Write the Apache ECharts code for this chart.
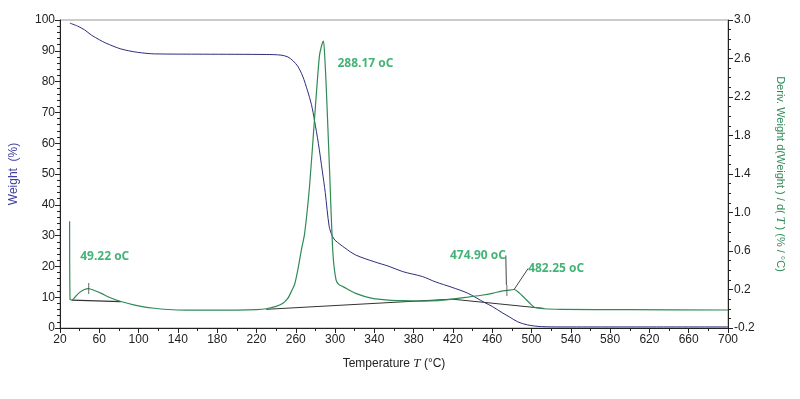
<!DOCTYPE html>
<html>
<head>
<meta charset="utf-8">
<script src="https://cdn.jsdelivr.net/npm/echarts@6/dist/echarts.min.js"></script>
<style>
  html, body { margin: 0; padding: 0; background: #fff; }
  #chart { width: 800px; height: 399px; }
</style>
</head>
<body>
<div id="chart"></div>
<script>
// 失重曲线 (TGA)
var weightTemp = [30, 38, 45, 52, 60, 66, 75, 82, 90, 99, 116, 166, 230, 245, 252, 257, 262, 267, 272, 276, 279, 283, 287, 290, 294, 297, 300, 310, 321, 340, 355, 369, 389, 402, 419, 435, 452, 460, 470, 478, 486, 496, 510, 530, 700];
var weight = [99.0, 98.0, 96.8, 95.1, 93.6, 92.6, 91.4, 90.6, 90.0, 89.5, 89.0, 88.9, 88.8, 88.6, 88.0, 86.8, 85.0, 81.8, 77.0, 72.5, 67.5, 60.0, 51.0, 44.0, 33.0, 30.0, 28.5, 26.0, 23.7, 21.5, 20.0, 18.3, 16.7, 15.0, 13.2, 11.3, 8.3, 7.0, 5.0, 3.5, 2.0, 1.0, 0.45, 0.35, 0.35];

// 微分曲线 (DTG)
var derivTemp = [29.8, 30.2, 32, 36, 40, 45, 49, 55, 62, 70, 82, 95, 105, 116, 130, 139, 160, 200, 220, 230, 240, 247, 252, 256, 259, 262, 265.7, 269, 274, 279, 284, 286.5, 288.2, 289.5, 291, 294.4, 297.8, 301, 304, 308, 321, 338, 355, 370, 389, 405, 419, 435, 449, 460, 469.5, 474.9, 482.3, 488, 493, 498, 503, 513, 530, 600, 700];
var deriv = [0.91, 0.10, 0.09, 0.13, 0.17, 0.20, 0.21, 0.19, 0.16, 0.12, 0.075, 0.04, 0.02, 0.005, -0.008, -0.013, -0.015, -0.015, -0.01, 0.0, 0.025, 0.057, 0.11, 0.19, 0.26, 0.40, 0.61, 0.78, 1.27, 1.96, 2.62, 2.74, 2.78, 2.62, 2.31, 1.44, 0.58, 0.30, 0.25, 0.23, 0.16, 0.108, 0.09, 0.084, 0.08, 0.085, 0.10, 0.12, 0.14, 0.16, 0.184, 0.19, 0.20, 0.16, 0.11, 0.06, 0.015, 0.0, -0.006, -0.01, -0.013];

// 基线
var base1Temp = [32, 82];
var base1 = [0.09, 0.073];
var base2Temp = [230, 419, 513];
var base2 = [-0.006, 0.10, 0.003];

// 峰值标注
var peakTemp = [49.22, 288.17, 474.90, 482.25];
var peakDeriv = [0.21, 2.78, 0.19, 0.20];

var xTicks = { min: 20, max: 700, interval: 40 };

function pairs(xs, ys) {
  return xs.map(function (x, i) { return [x, ys[i]]; });
}

var green = "#2f8a55";
var labelGreen = "#16a053";
var font = "Liberation Sans";

// 标注文字相对峰值点的偏移
var peakLayout = [
  { dx: 16, dy: -32, mark: true, line: false },
  { dx: 42, dy: 22, mark: false, line: false },
  { dx: -29, dy: -35, mark: true, line: true },
  { dx: 42, dy: -21, mark: false, line: true }
];

var peakData = peakTemp.map(function (t, i) {
  var l = peakLayout[i];
  return {
    value: [t, peakDeriv[i]],
    symbolSize: l.mark ? [1, 11] : 0,
    labelLine: { show: l.line }
  };
});

var myChart = echarts.init(document.getElementById("chart"));
var option = {
  animation: false,
  textStyle: { fontFamily: font },
  grid: {
    left: 55,
    right: 72,
    top: 20,
    bottom: 71,
    show: true,
    borderColor: "#999",
    borderWidth: 1
  },
  xAxis: {
    type: "value",
    min: xTicks.min,
    max: xTicks.max,
    interval: xTicks.interval,
    name: "Temperature {i|T} (°C)",
    nameLocation: "middle",
    nameGap: 29,
    nameTextStyle: {
      color: "#222",
      fontSize: 12,
      rich: { i: { fontStyle: "italic", fontFamily: "Liberation Serif", fontSize: 13, color: "#222" } }
    },
    axisLine: { onZero: false, lineStyle: { color: "#222" } },
    axisTick: { length: 5, lineStyle: { color: "#222" } },
    minorTick: { show: true, splitNumber: 2, length: 3, lineStyle: { color: "#222" } },
    axisLabel: { color: "#222", fontSize: 12, margin: 6 },
    splitLine: { show: false }
  },
  yAxis: [
    {
      type: "value",
      min: 0,
      max: 100,
      interval: 10,
      name: "Weight  (%)",
      nameLocation: "middle",
      nameGap: 40,
      nameTextStyle: { color: "#3f3f9f", fontSize: 12 },
      axisLine: { show: true, lineStyle: { color: "#222" } },
      axisTick: { length: 5, lineStyle: { color: "#222" } },
      minorTick: { show: true, splitNumber: 5, length: 3, lineStyle: { color: "#222" } },
      axisLabel: { color: "#222", fontSize: 12, margin: 5 },
      splitLine: { show: false }
    },
    {
      type: "value",
      min: -0.2,
      max: 3.0,
      interval: 0.4,
      position: "right",
      name: "Deriv. Weight d(Weight ) / d( {i|T} ) (% / °C)",
      nameLocation: "middle",
      nameRotate: -90,
      nameGap: 46,
      nameTextStyle: {
        color: green,
        fontSize: 11,
        rich: { i: { fontStyle: "italic", fontFamily: "Liberation Serif", fontSize: 12, color: green } }
      },
      axisLine: { show: true, lineStyle: { color: "#222" } },
      axisTick: { length: 5, lineStyle: { color: "#222" } },
      minorTick: { show: true, splitNumber: 4, length: 3, lineStyle: { color: "#222" } },
      axisLabel: {
        color: "#222",
        fontSize: 12,
        margin: 6,
        formatter: function (v) { return v.toFixed(1); }
      },
      splitLine: { show: false }
    }
  ],
  series: [
    {
      name: "Weight",
      type: "line",
      yAxisIndex: 0,
      data: pairs(weightTemp, weight),
      smooth: 0.3,
      showSymbol: false,
      lineStyle: { color: "#2d2d7e", width: 1 },
      z: 3
    },
    {
      name: "Baseline 1",
      type: "line",
      yAxisIndex: 1,
      data: pairs(base1Temp, base1),
      showSymbol: false,
      lineStyle: { color: "#333", width: 1.2 },
      z: 2
    },
    {
      name: "Baseline 2",
      type: "line",
      yAxisIndex: 1,
      data: pairs(base2Temp, base2),
      showSymbol: false,
      lineStyle: { color: "#333", width: 1 },
      z: 2
    },
    {
      name: "Deriv. Weight",
      type: "line",
      yAxisIndex: 1,
      data: pairs(derivTemp, deriv),
      smooth: 0.25,
      showSymbol: false,
      lineStyle: { color: green, width: 1.2 },
      z: 4
    },
    {
      name: "Peaks",
      type: "scatter",
      yAxisIndex: 1,
      symbol: "rect",
      itemStyle: { color: "#444" },
      data: peakData,
      label: {
        show: true,
        position: "inside",
        color: labelGreen,
        fontWeight: "bold",
        fontSize: 12,
        fontFamily: "Open Sans",
        formatter: function (p) { return p.value[0].toFixed(2) + " oC"; }
      },
      labelLine: { show: false, lineStyle: { color: "#444", width: 1 } },
      labelLayout: function (params) {
        var l = peakLayout[params.dataIndex];
        return { dx: l.dx, dy: l.dy, hideOverlap: false };
      },
      z: 5
    }
  ]
};
myChart.setOption(option);
</script>
</body>
</html>
